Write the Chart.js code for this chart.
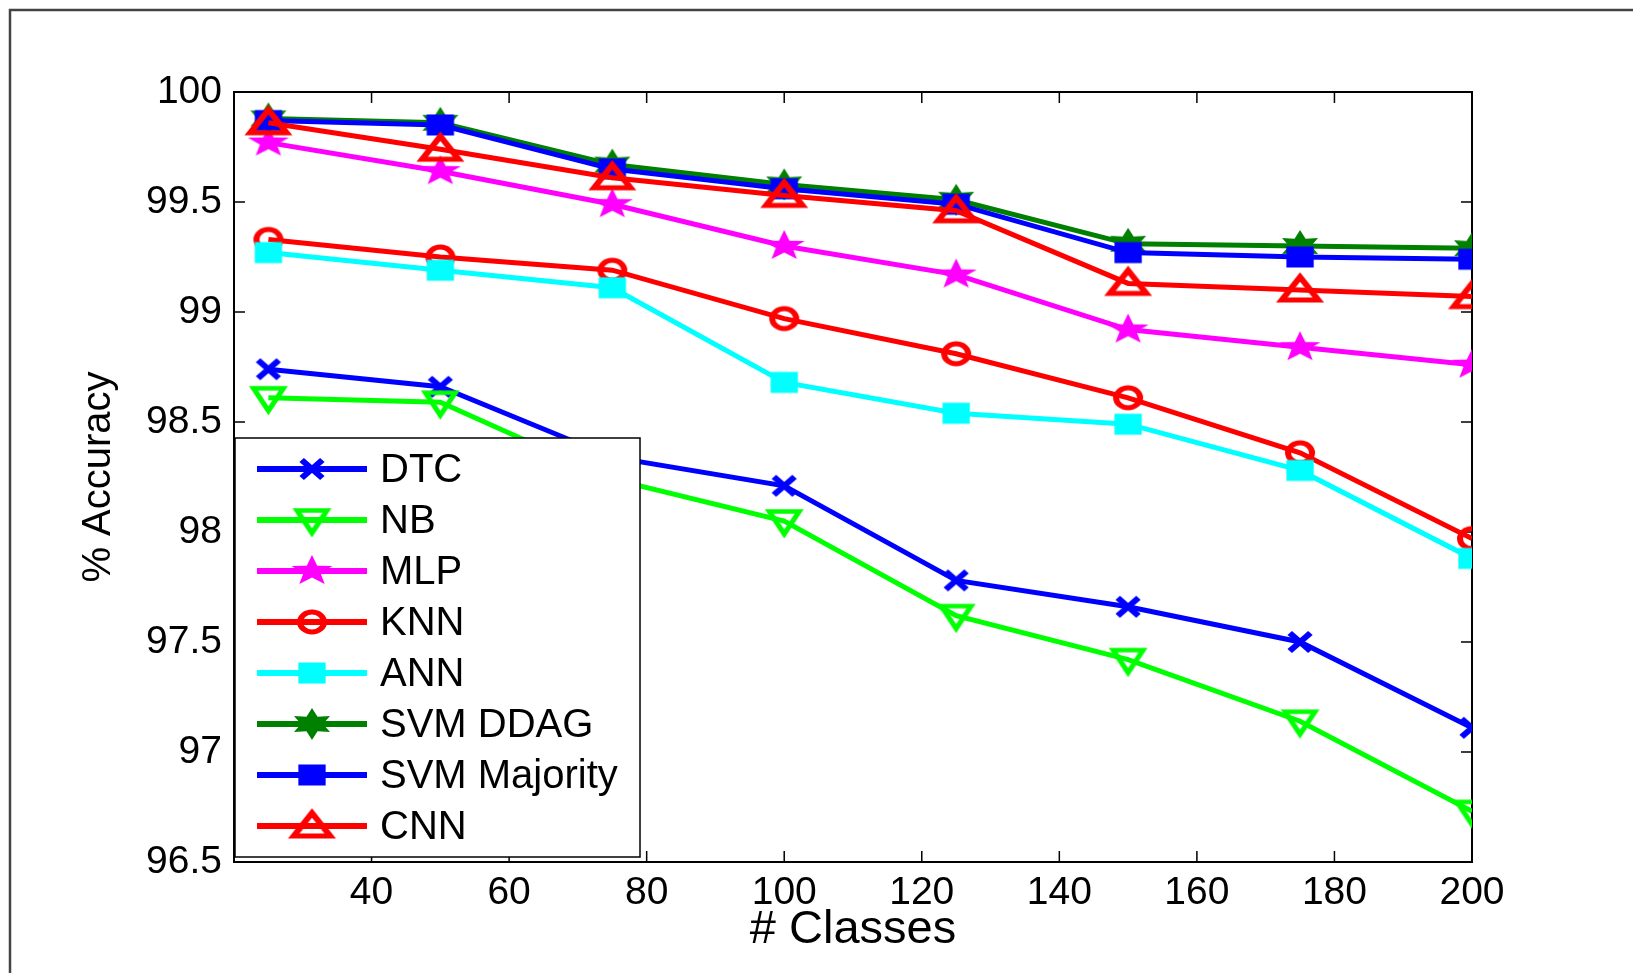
<!DOCTYPE html>
<html>
<head>
<meta charset="utf-8">
<script src="https://cdn.jsdelivr.net/npm/chart.js@4/dist/chart.umd.min.js"></script>
<style>
  html, body { margin: 0; padding: 0; background: #fff; }
  #wrap { width: 1633px; height: 973px; }
</style>
</head>
<body>
<div id="wrap"><canvas id="accChart" width="1633" height="973"></canvas></div>
<script>
// values
const classes = [25, 50, 75, 100, 125, 150, 175, 200];
const seriesNames = ["DTC", "NB", "MLP", "KNN", "ANN", "SVM DDAG", "SVM Majority", "CNN"];
const dtc = [98.74, 98.66, 98.34, 98.21, 97.78, 97.66, 97.50, 97.11];
const nb = [98.61, 98.59, 98.24, 98.05, 97.62, 97.42, 97.14, 96.73];
const mlp = [99.77, 99.64, 99.49, 99.30, 99.17, 98.92, 98.84, 98.76];
const knn = [99.33, 99.25, 99.19, 98.97, 98.81, 98.61, 98.36, 97.97];
const ann = [99.27, 99.19, 99.11, 98.68, 98.54, 98.49, 98.28, 97.88];
const svmDdag = [99.88, 99.86, 99.67, 99.58, 99.51, 99.31, 99.30, 99.29];
const svmMajority = [99.87, 99.85, 99.65, 99.56, 99.49, 99.27, 99.25, 99.24];
const cnn = [99.86, 99.74, 99.61, 99.53, 99.46, 99.13, 99.10, 99.07];

const xTicks = [20, 40, 60, 80, 100, 120, 140, 160, 180, 200];
const xTickLabels = ["", "40", "60", "80", "100", "120", "140", "160", "180", "200"];
const yTicks = [96.5, 97, 97.5, 98, 98.5, 99, 99.5, 100];
const yTickLabels = ["96.5", "97", "97.5", "98", "98.5", "99", "99.5", "100"];

Chart.defaults.font.family = '"Liberation Sans", Arial, Helvetica, sans-serif';
Chart.defaults.color = "#000";

// the original figure is a bit wider than tall, markers included,
// so markers are drawn on small canvases with a horizontal stretch
function marker(size, sx, draw) {
  const c = document.createElement("canvas");
  c.width = Math.ceil(size * sx);
  c.height = size;
  const g = c.getContext("2d");
  g.translate(c.width / 2, size / 2);
  g.scale(sx, 1);
  g.lineJoin = "miter";
  draw(g);
  return c;
}

function starPath(g, n, outer, inner) {
  g.beginPath();
  for (let k = 0; k < 2 * n; k++) {
    const r = k % 2 ? inner : outer;
    const a = -Math.PI / 2 + k * Math.PI / n;
    g.lineTo(r * Math.cos(a), r * Math.sin(a));
  }
  g.closePath();
}

const mkCross = marker(36, 1.15, g => {
  g.strokeStyle = "#0000ff"; g.lineWidth = 5.5;
  g.beginPath();
  g.moveTo(-9, -9); g.lineTo(9, 9);
  g.moveTo(9, -9); g.lineTo(-9, 9);
  g.stroke();
});
const mkDown = marker(42, 1.15, g => {
  g.strokeStyle = "#00ff00"; g.lineWidth = 4.5;
  g.beginPath();
  g.moveTo(0, 13); g.lineTo(-13, -9.5); g.lineTo(13, -9.5); g.closePath();
  g.stroke();
});
const mkStar5 = marker(40, 1.35, g => {
  g.fillStyle = "#ff00ff";
  starPath(g, 5, 16, 6.6);
  g.fill();
});
const mkCircle = marker(36, 1.2, g => {
  g.strokeStyle = "#ff0000"; g.lineWidth = 5;
  g.beginPath();
  g.arc(0, 0, 10, 0, Math.PI * 2);
  g.stroke();
});
const mkSqCyan = marker(26, 1.3, g => {
  g.fillStyle = "#00ffff";
  g.fillRect(-10.5, -10.5, 21, 21);
});
const mkStar6 = marker(40, 1.3, g => {
  g.fillStyle = "#008000";
  starPath(g, 6, 16, 8.5);
  g.fill();
});
const mkSqBlue = marker(26, 1.3, g => {
  g.fillStyle = "#0000ff";
  g.fillRect(-10.5, -10.5, 21, 21);
});
const mkUp = marker(42, 1.3, g => {
  g.strokeStyle = "#ff0000"; g.lineWidth = 5;
  g.beginPath();
  g.moveTo(0, -13); g.lineTo(-14, 10); g.lineTo(14, 10); g.closePath();
  g.stroke();
});

const styles = [
  { color: "#0000ff", point: mkCross },
  { color: "#00ff00", point: mkDown },
  { color: "#ff00ff", point: mkStar5 },
  { color: "#ff0000", point: mkCircle },
  { color: "#00ffff", point: mkSqCyan },
  { color: "#008000", point: mkStar6 },
  { color: "#0000ff", point: mkSqBlue },
  { color: "#ff0000", point: mkUp },
];

const allSeries = [dtc, nb, mlp, knn, ann, svmDdag, svmMajority, cnn];

const datasets = allSeries.map((vals, i) => ({
  label: seriesNames[i],
  data: vals.map((v, j) => ({ x: classes[j], y: v })),
  borderColor: styles[i].color,
  backgroundColor: styles[i].color,
  borderWidth: 5,
  pointStyle: styles[i].point,
  pointRadius: 12,
  tension: 0,
  order: allSeries.length - 1 - i, // later series on top, like matlab
}));

// box around the axes, inward ticks, page border, legend
const framePlugin = {
  id: "frame",
  beforeDraw(chart) {
    const ctx = chart.ctx;
    ctx.save();
    ctx.strokeStyle = "#444";
    ctx.lineWidth = 2.5;
    ctx.beginPath();
    ctx.moveTo(10, chart.height);
    ctx.lineTo(10, 10);
    ctx.lineTo(chart.width, 10);
    ctx.stroke();
    ctx.restore();
  },
  beforeDatasetsDraw(chart) {
    const { ctx, chartArea: a, scales } = chart;
    ctx.save();
    ctx.strokeStyle = "#000";
    ctx.lineWidth = 1.5;
    const len = 11;
    ctx.beginPath();
    scales.y.ticks.forEach(t => {
      const py = scales.y.getPixelForValue(t.value);
      ctx.moveTo(a.left, py); ctx.lineTo(a.left + len, py);
      ctx.moveTo(a.right, py); ctx.lineTo(a.right - len, py);
    });
    scales.x.ticks.forEach(t => {
      const px = scales.x.getPixelForValue(t.value);
      ctx.moveTo(px, a.bottom); ctx.lineTo(px, a.bottom - len);
      ctx.moveTo(px, a.top); ctx.lineTo(px, a.top + len);
    });
    ctx.stroke();
    ctx.lineWidth = 2;
    ctx.strokeRect(a.left, a.top, a.right - a.left, a.bottom - a.top);
    ctx.restore();
  },
  afterDatasetsDraw(chart) {
    const { ctx, chartArea: a } = chart;
    const box = { x: a.left + 1, y: a.bottom - 424, w: 405, h: 419 };
    ctx.save();
    ctx.fillStyle = "#fff";
    ctx.fillRect(box.x, box.y, box.w, box.h);
    ctx.strokeStyle = "#000";
    ctx.lineWidth = 1.5;
    ctx.strokeRect(box.x, box.y, box.w, box.h);
    ctx.font = '40px "Liberation Sans", Arial, sans-serif';
    ctx.textBaseline = "middle";
    chart.data.datasets.forEach((ds, i) => {
      const y = box.y + 31 + i * 51;
      const x0 = box.x + 22, x1 = box.x + 132;
      ctx.strokeStyle = ds.borderColor;
      ctx.lineWidth = 6;
      ctx.beginPath();
      ctx.moveTo(x0, y); ctx.lineTo(x1, y);
      ctx.stroke();
      const img = ds.pointStyle;
      ctx.drawImage(img, (x0 + x1) / 2 - img.width / 2, y - img.height / 2);
      ctx.fillStyle = "#000";
      ctx.fillText(ds.label, box.x + 145, y + 2);
    });
    ctx.restore();
  },
};

new Chart(document.getElementById("accChart"), {
  type: "line",
  data: { datasets },
  options: {
    responsive: false,
    animation: false,
    devicePixelRatio: 1,
    layout: { padding: { top: 92, right: 161, left: 0, bottom: 0 } },
    plugins: { legend: { display: false }, tooltip: { enabled: false } },
    scales: {
      x: {
        type: "linear",
        min: 20,
        max: 200,
        afterBuildTicks: s => { s.ticks = xTicks.map(v => ({ value: v })); },
        afterFit: s => { s.height = 111; },
        grid: { display: false, drawTicks: false },
        border: { display: false },
        ticks: {
          padding: 8,
          font: { size: 39 },
          maxRotation: 0,
          autoSkip: false,
          callback: (v) => xTickLabels[xTicks.indexOf(v)],
        },
        title: { display: true, text: "# Classes", font: { size: 47 }, padding: { top: 0, bottom: 15 } },
      },
      y: {
        min: 96.5,
        max: 100,
        afterBuildTicks: s => { s.ticks = yTicks.map(v => ({ value: v })); },
        afterFit: s => { s.width = 234; },
        grid: { display: false, drawTicks: false },
        border: { display: false },
        ticks: {
          padding: 12,
          font: { size: 39 },
          autoSkip: false,
          callback: (v) => yTickLabels[yTicks.indexOf(v)],
        },
        title: { display: true, text: "% Accuracy", font: { size: 40 }, padding: { top: 75, bottom: 0 } },
      },
    },
  },
  plugins: [framePlugin],
});
</script>
</body>
</html>
